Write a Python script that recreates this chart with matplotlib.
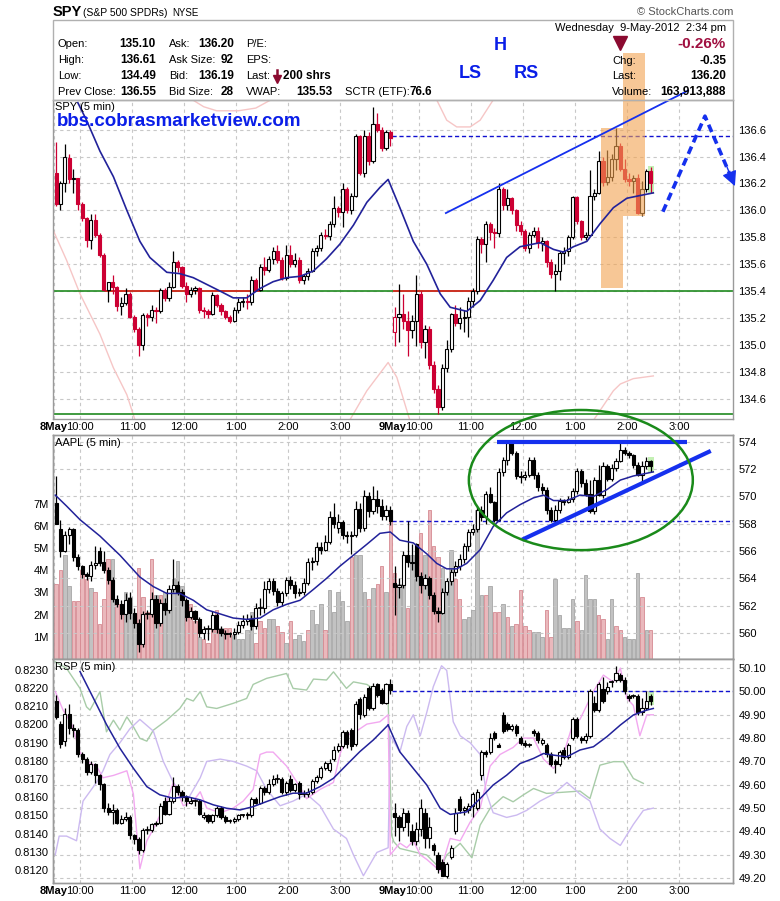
import matplotlib.pyplot as plt
from matplotlib.patches import Rectangle, Ellipse

plt.rcParams['font.family'] = ['Liberation Sans', 'DejaVu Sans']

W, H = 780, 901

# ----------------------------------------------------------------------
# x axis: 5 min bars, 8 May = bars 0..77, 9 May = bars 78..137
grid_x = [-0.5, 5.5, 17.5, 29.5, 41.5, 53.5, 65.5, 77.5, 83.5, 95.5, 107.5, 119.5, 131.5, 143.5]
grid_labels = ['8May', '10:00', '11:00', '12:00', '1:00', '2:00', '3:00',
               '9May', '10:00', '11:00', '12:00', '1:00', '2:00', '3:00']
x_lim = (-0.72, 155.96)
day1_n = 78

# ----------------------------------------------------------------------
# SPY (5 min) candles
spy_open = [136.28, 136.05, 136.20, 136.39, 136.23, 136.24, 136.05, 135.94, 135.78, 135.93,
            135.82, 135.67, 135.41, 135.47, 135.43, 135.29, 135.31, 135.38, 135.21, 135.12,
            135.00, 135.22, 135.21, 135.26, 135.25, 135.41, 135.35, 135.43, 135.62, 135.58,
            135.44, 135.38, 135.41, 135.42, 135.26, 135.25, 135.23, 135.37, 135.30, 135.25,
            135.21, 135.18, 135.26, 135.32, 135.33, 135.32, 135.48, 135.41, 135.58, 135.56,
            135.64, 135.70, 135.63, 135.50, 135.67, 135.60, 135.63, 135.48, 135.51, 135.55,
            135.70, 135.72, 135.82, 135.81, 135.90, 136.02, 135.99, 136.16, 136.00, 136.11,
            136.55, 136.28, 136.55, 136.37, 136.64, 136.60, 136.46, 136.58,
            135.10, 135.21, 135.23, 135.18, 135.11, 135.18, 135.38, 135.02, 135.12, 134.85,
            134.67, 134.54, 134.83, 134.97, 135.23, 135.16, 135.20, 135.21, 135.33, 135.40,
            135.79, 135.75, 135.90, 135.84, 135.83, 136.16, 136.04, 136.09, 136.00, 135.89,
            135.85, 135.72, 135.82, 135.85, 135.76, 135.77, 135.62, 135.53, 135.55, 135.68,
            135.70, 135.80, 136.10, 135.92, 135.80, 135.82, 136.11, 136.13, 136.37, 136.21,
            136.25, 136.38, 136.48, 136.31, 136.23, 136.22, 136.24, 135.98, 136.16, 136.29]
spy_high = [136.51, 136.22, 136.49, 136.42, 136.31, 136.24, 136.06, 135.95, 135.97, 135.97,
            135.83, 135.68, 135.47, 135.52, 135.44, 135.36, 135.42, 135.39, 135.22, 135.13,
            135.24, 135.24, 135.30, 135.28, 135.42, 135.42, 135.47, 135.70, 135.63, 135.59,
            135.47, 135.43, 135.44, 135.43, 135.28, 135.27, 135.39, 135.38, 135.31, 135.26,
            135.22, 135.28, 135.35, 135.36, 135.38, 135.51, 135.50, 135.60, 135.65, 135.66,
            135.73, 135.74, 135.65, 135.74, 135.74, 135.68, 135.65, 135.53, 135.57, 135.72,
            135.74, 135.84, 135.86, 135.92, 136.11, 136.03, 136.20, 136.17, 136.13, 136.57,
            136.56, 136.60, 136.58, 136.77, 136.72, 136.62, 136.60, 136.60,
            135.28, 135.45, 135.38, 135.25, 135.22, 135.52, 135.40, 135.15, 135.14, 134.88,
            134.70, 134.86, 135.04, 135.24, 135.30, 135.28, 135.26, 135.36, 135.42, 135.81,
            135.80, 135.92, 135.91, 135.87, 136.20, 136.17, 136.16, 136.10, 136.01, 135.92,
            135.86, 135.84, 135.88, 135.88, 135.80, 135.78, 135.64, 135.60, 135.70, 135.73,
            135.82, 136.11, 136.11, 135.93, 135.84, 136.30, 136.16, 136.44, 136.40, 136.45,
            136.42, 136.61, 136.50, 136.38, 136.28, 136.26, 136.27, 136.22, 136.31, 136.32]
spy_low = [136.03, 136.00, 136.14, 136.20, 136.13, 136.00, 135.92, 135.73, 135.71, 135.80,
           135.65, 135.40, 135.32, 135.38, 135.25, 135.22, 135.30, 135.20, 135.10, 134.92,
           134.96, 135.14, 135.18, 135.16, 135.24, 135.33, 135.33, 135.42, 135.54, 135.42,
           135.32, 135.36, 135.38, 135.24, 135.20, 135.20, 135.22, 135.28, 135.22, 135.19,
           135.16, 135.17, 135.24, 135.28, 135.27, 135.30, 135.40, 135.40, 135.52, 135.54,
           135.60, 135.61, 135.48, 135.48, 135.58, 135.58, 135.46, 135.45, 135.48, 135.54,
           135.66, 135.70, 135.79, 135.78, 135.88, 135.95, 135.88, 135.98, 135.97, 136.10,
           136.26, 136.25, 136.34, 136.35, 136.58, 136.44, 136.45, 136.48,
           134.99, 135.02, 135.12, 134.92, 135.05, 134.99, 134.98, 134.90, 134.82, 134.64,
           134.49, 134.52, 134.80, 134.95, 135.14, 135.12, 135.10, 135.06, 135.28, 135.38,
           135.68, 135.62, 135.78, 135.72, 135.80, 136.00, 136.00, 135.97, 135.85, 135.82,
           135.70, 135.68, 135.80, 135.72, 135.70, 135.58, 135.50, 135.40, 135.48, 135.60,
           135.66, 135.79, 135.90, 135.78, 135.78, 135.81, 136.08, 136.12, 136.18, 136.19,
           136.22, 136.30, 136.29, 136.21, 136.18, 136.13, 135.97, 135.96, 136.14, 136.13]
spy_close = [136.05, 136.20, 136.40, 136.23, 136.24, 136.05, 135.94, 135.78, 135.93, 135.82,
             135.67, 135.41, 135.47, 135.43, 135.29, 135.31, 135.38, 135.21, 135.12, 135.00,
             135.22, 135.21, 135.26, 135.25, 135.41, 135.35, 135.43, 135.62, 135.58, 135.44,
             135.38, 135.41, 135.42, 135.26, 135.25, 135.23, 135.37, 135.30, 135.25, 135.21,
             135.18, 135.26, 135.32, 135.33, 135.32, 135.48, 135.41, 135.58, 135.56, 135.64,
             135.70, 135.63, 135.50, 135.67, 135.60, 135.63, 135.48, 135.51, 135.55, 135.70,
             135.72, 135.82, 135.81, 135.90, 136.02, 135.99, 136.16, 136.00, 136.11, 136.55,
             136.28, 136.55, 136.37, 136.64, 136.60, 136.46, 136.58, 136.54,
             135.21, 135.23, 135.18, 135.11, 135.18, 135.38, 135.02, 135.12, 134.85, 134.67,
             134.54, 134.83, 134.97, 135.23, 135.16, 135.20, 135.21, 135.33, 135.40, 135.79,
             135.75, 135.90, 135.84, 135.83, 136.16, 136.04, 136.09, 136.00, 135.89, 135.85,
             135.72, 135.82, 135.85, 135.76, 135.77, 135.62, 135.53, 135.55, 135.68, 135.70,
             135.80, 136.10, 135.92, 135.80, 135.82, 136.11, 136.13, 136.37, 136.21, 136.25,
             136.38, 136.48, 136.31, 136.23, 136.22, 136.24, 135.98, 136.16, 136.29, 136.20]

spy_sma_x = [5, 7.0, 10.1, 13.2, 16.3, 19.3, 21.6, 25.5, 28.5, 31.6, 34.7, 37.8, 40.8, 43.9, 47.0,
             50.0, 53.1, 56.2, 59.3, 62.3, 65.4, 68.5, 71.6, 74.6, 76.5, 79.2, 82.3, 85.4, 88.5,
             90.8, 94.6, 97.7, 100.7, 103.8, 106.9, 111.5, 114.6, 116.9, 119.2, 122.3, 125.3,
             128.4, 131.5, 134.5, 137.6]
spy_sma_y = [136.80, 136.67, 136.44, 136.25, 136.00, 135.77, 135.65, 135.54, 135.53, 135.50,
             135.45, 135.40, 135.35, 135.35, 135.42, 135.47, 135.50, 135.51, 135.55, 135.64,
             135.75, 135.89, 136.06, 136.17, 136.23, 136.02, 135.77, 135.60, 135.38, 135.28,
             135.25, 135.33, 135.48, 135.65, 135.73, 135.76, 135.71, 135.69, 135.73, 135.77,
             135.90, 136.02, 136.09, 136.11, 136.13]

# faint pink overlay lines in the SPY panel
spy_pink_a_x = [-0.65, 2.4, 5.5, 10.1, 13.2, 16.3, 18.2]
spy_pink_a_y = [135.85, 135.63, 135.38, 135.08, 134.83, 134.63, 134.44]
spy_pink_b_x = [31, 34, 37, 42, 46, 50]
spy_pink_b_y = [136.83, 136.77, 136.74, 136.74, 136.76, 136.83]
spy_pink_c_x = [66.9, 71.6, 76.5, 78.5, 81.5]
spy_pink_c_y = [134.40, 134.66, 134.87, 134.76, 134.44]
spy_pink_d_x = [87.7, 90.0, 92.3, 95.4, 97.7, 100.7]
spy_pink_d_y = [136.82, 136.67, 136.62, 136.62, 136.67, 136.82]
spy_pink_e_x = [123.8, 128.4, 130.0, 133.0, 137.6]
spy_pink_e_y = [134.44, 134.66, 134.71, 134.75, 134.77]

# ----------------------------------------------------------------------
# AAPL (5 min) candles and volume (millions)
aapl_open = [569.5, 567.6, 566.0, 567.2, 567.6, 565.6, 564.9, 564.3, 564.2, 565.0,
             566.0, 565.2, 564.6, 563.9, 562.5, 562.1, 561.4, 562.6, 561.5, 560.7,
             559.2, 561.4, 561.4, 562.5, 560.7, 562.2, 561.7, 563.2, 563.5, 563.0,
             562.4, 561.2, 561.6, 561.0, 560.0, 560.3, 560.3, 561.3, 560.3, 560.0,
             559.9, 559.9, 560.1, 560.6, 560.9, 561.0, 560.5, 561.8, 561.8, 563.2,
             563.8, 563.1, 562.3, 562.9, 563.9, 563.5, 562.9, 563.0, 563.7, 565.2,
             565.3, 566.3, 566.1, 566.7, 568.5, 567.7, 568.1, 567.2, 567.1, 567.2,
             569.1, 567.7, 570.0, 568.9, 569.8, 569.3, 568.6, 569.0,
             563.7, 563.4, 563.5, 565.7, 565.2, 566.5, 564.2, 563.5, 564.0, 562.8,
             561.6, 561.5, 563.0, 563.8, 564.5, 564.9, 565.4, 566.4, 567.4, 567.6,
             569.0, 568.5, 570.2, 569.6, 568.3, 571.8, 572.7, 573.9, 573.2, 571.5,
             571.4, 571.6, 572.7, 571.6, 570.7, 570.5, 569.0, 568.3, 569.0, 569.7,
             569.6, 569.8, 570.4, 571.9, 571.0, 570.2, 568.9, 571.2, 570.1, 572.2,
             571.3, 572.1, 572.6, 573.4, 573.2, 573.0, 572.3, 571.6, 572.2, 572.6]
aapl_high = [571.5, 568.3, 567.5, 567.8, 567.7, 565.8, 565.0, 564.5, 565.3, 566.4,
             566.3, 566.0, 564.8, 564.1, 562.8, 562.4, 562.9, 563.0, 561.8, 561.0,
             561.6, 561.7, 563.0, 562.8, 562.5, 562.6, 563.5, 565.4, 563.8, 563.2,
             562.6, 561.9, 561.7, 561.2, 560.5, 560.6, 561.6, 561.5, 560.5, 560.2,
             560.1, 560.4, 560.9, 561.3, 561.4, 561.3, 562.2, 562.6, 563.8, 564.0,
             564.0, 563.3, 563.1, 564.1, 564.2, 563.8, 563.3, 564.0, 565.5, 565.6,
             566.7, 566.7, 567.2, 568.9, 569.5, 568.7, 568.3, 567.5, 567.5, 569.7,
             569.5, 570.5, 570.3, 570.8, 570.5, 569.8, 569.4, 569.3,
             564.9, 564.0, 566.0, 568.2, 566.5, 566.6, 564.5, 564.3, 564.2, 563.0,
             561.9, 563.3, 564.0, 564.7, 565.3, 565.8, 566.6, 567.6, 568.0, 569.2,
             569.3, 570.4, 570.7, 569.7, 572.1, 572.9, 574.0, 574.0, 573.3, 571.9,
             571.9, 572.9, 572.9, 571.8, 571.0, 570.7, 569.2, 569.4, 569.9, 569.8,
             570.0, 570.6, 572.1, 572.0, 571.3, 571.2, 571.4, 572.3, 572.5, 572.4,
             572.4, 572.8, 574.0, 573.6, 573.3, 573.1, 572.5, 572.6, 572.9, 572.7]
aapl_low = [568.0, 565.6, 565.9, 566.5, 565.3, 564.6, 564.0, 563.9, 563.8, 564.7,
            564.9, 564.4, 563.6, 562.3, 561.9, 561.0, 560.8, 561.0, 560.4, 558.6,
            559.0, 561.0, 561.2, 560.4, 560.5, 561.3, 561.5, 563.0, 562.8, 562.0,
            560.9, 561.0, 560.7, 559.7, 559.6, 559.5, 560.1, 560.0, 559.8, 559.6,
            559.7, 559.6, 559.9, 560.4, 560.6, 560.2, 560.3, 561.3, 561.5, 562.9,
            562.8, 562.0, 562.0, 562.7, 563.2, 562.6, 562.7, 562.8, 563.5, 564.6,
            565.0, 565.8, 566.0, 566.5, 567.7, 567.3, 566.9, 566.6, 565.8, 567.0,
            567.4, 567.5, 568.5, 568.7, 568.8, 568.3, 568.3, 567.9,
            561.3, 562.6, 563.3, 564.8, 564.6, 563.8, 562.9, 563.2, 562.5, 561.4,
            560.8, 561.4, 562.8, 563.5, 564.2, 564.6, 565.1, 566.0, 567.2, 567.4,
            568.2, 568.0, 569.5, 568.1, 568.2, 571.5, 572.3, 573.0, 571.3, 571.0,
            571.2, 571.4, 571.3, 570.4, 570.2, 568.7, 568.1, 568.0, 568.8, 569.4,
            569.5, 569.6, 570.2, 570.7, 570.0, 568.8, 568.7, 570.0, 569.9, 571.1,
            571.1, 571.9, 572.5, 573.0, 572.8, 572.1, 571.5, 571.1, 572.0, 571.8]
aapl_close = [568.0, 566.0, 567.2, 567.6, 565.6, 564.9, 564.3, 564.2, 565.0, 565.1,
              565.1, 564.6, 563.9, 562.5, 562.1, 561.4, 562.4, 561.5, 560.7, 559.2,
              561.4, 561.4, 562.5, 560.7, 562.2, 561.7, 563.2, 563.5, 563.0, 562.4,
              561.2, 561.6, 561.0, 560.0, 560.3, 560.3, 561.3, 560.3, 560.0, 559.9,
              559.9, 560.1, 560.6, 560.9, 561.0, 560.5, 561.8, 561.8, 563.2, 563.8,
              563.1, 562.3, 562.9, 563.9, 563.5, 562.9, 563.0, 563.7, 565.2, 565.3,
              566.3, 566.1, 566.7, 568.5, 568.0, 568.1, 567.2, 567.1, 567.2, 569.1,
              567.7, 570.0, 568.9, 569.8, 569.3, 568.6, 569.0, 568.2,
              563.4, 563.5, 565.7, 565.2, 565.1, 564.2, 563.5, 564.0, 562.8, 561.6,
              561.5, 563.0, 563.8, 564.5, 564.9, 565.4, 566.4, 567.4, 567.6, 569.0,
              568.5, 570.2, 569.6, 568.3, 571.8, 572.7, 573.9, 573.2, 571.5, 571.4,
              571.6, 572.7, 571.6, 570.7, 570.5, 569.0, 568.3, 569.0, 569.7, 569.6,
              569.8, 570.4, 571.9, 571.0, 570.2, 568.9, 571.2, 570.1, 572.2, 571.3,
              572.1, 572.6, 573.4, 573.2, 573.0, 572.3, 571.6, 572.2, 572.6, 572.2]
aapl_volume = [3.4, 4.0, 4.7, 3.3, 2.6, 2.6, 4.0, 3.6, 3.2, 3.0,
               1.6, 2.7, 4.5, 4.5, 2.5, 2.5, 3.0, 2.8, 1.7, 4.1,
               2.8, 2.1, 4.5, 2.9, 2.9, 3.0, 2.9, 3.6, 4.4, 3.3,
               2.3, 2.5, 1.7, 1.0, 0.9, 0.7, 1.3, 2.2, 1.4, 1.4,
               1.4, 1.1, 0.9, 0.9, 1.3, 2.1, 0.7, 1.7, 1.4, 1.8,
               1.8, 1.5, 1.2, 0.7, 1.7, 0.9, 1.1, 0.8, 1.3, 2.2,
               1.6, 2.5, 1.3, 3.1, 2.1, 3.0, 2.6, 1.7, 4.6, 4.7,
               4.7, 3.0, 2.7, 3.2, 3.4, 4.2, 3.0, 6.2,
               3.9, 3.4, 3.4, 2.3, 4.7, 5.1, 5.7, 4.7, 6.7, 5.1,
               4.6, 4.1, 3.5, 4.9, 3.6, 2.7, 1.8, 1.9, 2.2, 6.7,
               2.9, 2.9, 3.3, 2.1, 2.1, 2.5, 1.9, 1.5, 1.6, 3.1,
               1.5, 1.3, 1.2, 1.2, 1.0, 2.2, 1.0, 3.6, 2.0, 1.4,
               1.4, 2.7, 1.7, 1.3, 3.8, 2.7, 2.7, 2.0, 1.8, 0.9,
               2.7, 1.5, 1.3, 1.0, 0.9, 0.9, 3.9, 2.8, 1.3, 1.3]
# p = down volume (pink), g = up volume (grey)
aapl_volume_dir = ('ppggppppgp' 'pppgppgggp' 'pppgpggggg' 'pppgppppgp'
                   'pgggggpppg' 'gppgpgggpg' 'ggpgggggpg' 'ggpgppgp'
                   'pggpggpgpp' 'pgggppgggg' 'gpgppgpgpp' 'ppgggppggg'
                   'ggpggggppg' 'gppggggpgp')

aapl_sma_x = [-0.2, 2.4, 5.5, 10.1, 14.7, 19.3, 22.4, 25.5, 28.5, 31.6, 34.7, 37.8, 40.8, 43.9,
              47.0, 50.0, 53.1, 56.2, 59.3, 62.3, 65.4, 68.5, 71.6, 74.6, 77.0, 79.2, 82.3,
              85.4, 87.7, 90.0, 92.3, 94.6, 97.7, 100.7, 103.8, 106.9, 110.0, 112.3, 114.6,
              117.7, 120.7, 123.8, 126.9, 130.0, 133.0, 136.1, 137.6]
aapl_sma_y = [570.1, 569.3, 568.3, 567.1, 565.7, 564.1, 563.4, 562.9, 562.9, 562.4, 561.7,
              561.4, 561.1, 561.0, 561.1, 561.7, 562.1, 562.4, 563.2, 564.0, 564.9, 565.7,
              566.5, 567.3, 567.4, 566.8, 566.6, 565.8, 565.1, 564.7, 564.7, 565.1, 566.1,
              567.8, 568.8, 569.4, 569.9, 570.1, 569.7, 569.7, 570.1, 570.0, 570.5, 571.2,
              571.5, 571.7, 571.8]

# ----------------------------------------------------------------------
# RSP (5 min): 8 May on the left scale, 9 May on the right scale
rsp1_open = [.8213, .8200, .8191, .8206, .8198, .8197, .8184, .8181, .8174, .8178,
             .8172, .8167, .8154, .8152, .8153, .8146, .8148, .8149, .8139, .8137,
             .8131, .8142, .8142, .8145, .8146, .8158, .8151, .8158, .8166, .8163,
             .8160, .8157, .8158, .8158, .8149, .8150, .8147, .8150, .8154, .8149,
             .8147, .8147, .8148, .8150, .8150, .8150, .8159, .8157, .8165, .8163,
             .8167, .8170, .8170, .8163, .8170, .8164, .8168, .8162, .8162, .8163,
             .8169, .8171, .8176, .8175, .8181, .8186, .8188, .8196, .8197, .8189,
             .8214, .8205, .8220, .8209, .8222, .8219, .8212, .8222]
rsp1_high = [.8216, .8202, .8209, .8211, .8200, .8198, .8185, .8182, .8180, .8179,
             .8173, .8168, .8157, .8156, .8154, .8150, .8152, .8150, .8140, .8138,
             .8143, .8144, .8146, .8147, .8157, .8160, .8160, .8171, .8167, .8164,
             .8161, .8160, .8159, .8159, .8152, .8151, .8151, .8155, .8155, .8150,
             .8148, .8149, .8151, .8151, .8152, .8160, .8160, .8166, .8166, .8170,
             .8172, .8173, .8171, .8169, .8172, .8168, .8169, .8164, .8165, .8170,
             .8172, .8177, .8180, .8181, .8188, .8190, .8197, .8197, .8198, .8213,
             .8215, .8217, .8221, .8223, .8223, .8220, .8223, .8225]
rsp1_low = [.8203, .8187, .8188, .8195, .8193, .8182, .8179, .8172, .8173, .8168,
            .8164, .8152, .8150, .8145, .8145, .8145, .8147, .8137, .8134, .8129,
            .8130, .8140, .8141, .8144, .8145, .8150, .8150, .8157, .8161, .8158,
            .8155, .8156, .8155, .8150, .8148, .8146, .8146, .8149, .8148, .8146,
            .8146, .8146, .8147, .8149, .8148, .8149, .8156, .8156, .8161, .8162,
            .8166, .8168, .8162, .8161, .8163, .8163, .8159, .8160, .8160, .8162,
            .8168, .8170, .8175, .8174, .8180, .8185, .8187, .8187, .8186, .8188,
            .8203, .8204, .8208, .8208, .8215, .8211, .8211, .8217]
rsp1_close = [.8204, .8189, .8206, .8198, .8197, .8184, .8181, .8174, .8178, .8172,
              .8167, .8154, .8152, .8153, .8146, .8148, .8149, .8139, .8137, .8131,
              .8142, .8142, .8145, .8146, .8155, .8151, .8158, .8166, .8163, .8160,
              .8158, .8158, .8158, .8151, .8150, .8147, .8150, .8154, .8149, .8147,
              .8147, .8148, .8150, .8150, .8151, .8159, .8157, .8165, .8163, .8167,
              .8170, .8170, .8163, .8168, .8164, .8167, .8162, .8162, .8163, .8169,
              .8171, .8176, .8179, .8179, .8186, .8188, .8196, .8189, .8188, .8211,
              .8206, .8215, .8209, .8221, .8216, .8212, .8222, .8219]
rsp2_open = [49.48, 49.46, 49.42, 49.48, 49.40, 49.36, 49.41, 49.48, 49.37, 49.34,
             49.30, 49.27, 49.21, 49.29, 49.40, 49.54, 49.49, 49.49, 49.51, 49.50,
             49.64, 49.74, 49.74, 49.82, 49.77, 49.90, 49.86, 49.84, 49.85, 49.80,
             49.78, 49.77, 49.83, 49.82, 49.78, 49.77, 49.73, 49.70, 49.69, 49.75,
             49.72, 49.80, 49.88, 49.80, 49.79, 49.81, 49.95, 49.92, 50.01, 50.00,
             50.04, 50.05, 50.07, 50.05, 49.98, 49.98, 49.98, 49.91, 49.93, 49.98]
rsp2_high = [49.52, 49.47, 49.50, 49.49, 49.43, 49.44, 49.54, 49.50, 49.46, 49.35,
             49.31, 49.28, 49.27, 49.34, 49.50, 49.55, 49.51, 49.52, 49.57, 49.58,
             49.75, 49.75, 49.82, 49.83, 49.78, 49.91, 49.87, 49.86, 49.86, 49.81,
             49.79, 49.78, 49.84, 49.83, 49.80, 49.78, 49.74, 49.71, 49.75, 49.76,
             49.78, 49.89, 49.89, 49.81, 49.82, 50.01, 49.98, 50.04, 50.06, 50.04,
             50.05, 50.11, 50.08, 50.06, 49.99, 49.99, 49.99, 49.97, 50.00, 49.99]
rsp2_low = [49.38, 49.36, 49.40, 49.38, 49.34, 49.34, 49.38, 49.33, 49.33, 49.30,
            49.22, 49.21, 49.20, 49.28, 49.39, 49.48, 49.47, 49.48, 49.46, 49.49,
            49.62, 49.72, 49.73, 49.79, 49.76, 49.82, 49.83, 49.83, 49.81, 49.77,
            49.76, 49.76, 49.81, 49.78, 49.77, 49.72, 49.68, 49.65, 49.68, 49.71,
            49.71, 49.79, 49.80, 49.78, 49.78, 49.80, 49.91, 49.91, 49.95, 49.99,
            50.02, 50.04, 50.04, 49.99, 49.96, 49.97, 49.90, 49.90, 49.92, 49.94]
rsp2_close = [49.46, 49.42, 49.48, 49.44, 49.36, 49.41, 49.50, 49.37, 49.42, 49.32,
              49.24, 49.21, 49.26, 49.33, 49.48, 49.49, 49.50, 49.51, 49.56, 49.57,
              49.74, 49.73, 49.80, 49.80, 49.76, 49.83, 49.84, 49.85, 49.82, 49.78,
              49.77, 49.77, 49.82, 49.79, 49.79, 49.73, 49.69, 49.69, 49.74, 49.72,
              49.77, 49.88, 49.81, 49.79, 49.81, 50.00, 49.92, 50.03, 49.96, 50.02,
              50.04, 50.08, 50.05, 50.00, 49.97, 49.98, 49.91, 49.93, 49.96, 49.96]

rsp1_sma_x = [5.5, 8.6, 11.6, 14.7, 17.8, 20.9, 23.9, 27.0, 30.1, 33.2, 36.2, 39.3, 42.4, 45.4,
              48.5, 51.6, 54.6, 57.7, 60.8, 63.9, 66.9, 70.0, 73.1, 76.5]
rsp1_sma_y = [.82291, .82144, .82000, .81869, .81759, .81658, .81613, .81594, .81603, .81585,
              .81558, .81539, .81530, .81548, .81576, .81603, .81622, .81622, .81658, .81704,
              .81777, .81851, .81915, .81997]
rsp2_sma_x = [76.5, 79.2, 82.3, 85.4, 88.5, 90.8, 94.6, 97.7, 100.7, 103.8, 106.9, 110.0, 112.3,
              114.6, 117.7, 120.7, 123.8, 126.9, 130.0, 133.0, 136.1, 137.6]
rsp2_sma_y = [49.856, 49.741, 49.670, 49.599, 49.499, 49.473, 49.484, 49.541, 49.599, 49.641,
              49.691, 49.713, 49.734, 49.727, 49.720, 49.749, 49.763, 49.806, 49.856, 49.899,
              49.920, 49.927]

# faint comparison lines in the RSP panel (right scale)
rsp_green_x = [-0.2, 2.4, 5.5, 7.0, 7.8, 10.1, 11.6, 13.2, 14.7, 16.3, 17.8, 19.3, 20.9, 22.4,
               25.5, 28.5, 30.1, 31.6, 33.2, 34.7, 37.0, 40.8, 43.9, 45.4, 48.5, 53.1, 54.6,
               57.7, 59.3, 62.3, 63.9, 66.9, 68.5, 71.6, 76.5, 77.3, 77.8, 79.2, 82.3, 85.4,
               88.5, 90.0, 93.1, 95.8, 97.7, 100.0, 103.0, 105.3, 107.6, 110.0, 113.0, 120.7,
               123.0, 125.3, 128.4, 130.7, 133.0, 135.3]
rsp_green_y = [50.127, 50.099, 50.013, 49.934, 49.920, 49.999, 49.827, 49.877, 49.834, 49.891,
               49.849, 49.799, 49.787, 49.834, 49.877, 49.927, 49.970, 49.959, 49.999, 49.934,
               49.927, 49.949, 49.970, 50.030, 50.056, 50.077, 50.013, 50.006, 50.053, 50.049,
               50.084, 50.013, 50.041, 50.030, 49.970, 49.384, 49.356, 49.327, 49.313, 49.299,
               49.241, 49.299, 49.349, 49.287, 49.427, 49.499, 49.549, 49.527, 49.556, 49.584,
               49.563, 49.573, 49.541, 49.684, 49.699, 49.699, 49.627, 49.606]
rsp_purple_x = [-0.2, 0.7, 2.4, 4.7, 6.2, 9.3, 10.8, 12.4, 14.7, 17.0, 19.3, 22.4, 24.7, 27.0,
                30.1, 33.2, 34.7, 37.8, 40.8, 43.9, 46.2, 48.5, 51.6, 54.6, 57.7, 60.8, 63.9,
                66.9, 68.5, 70.8, 73.9, 76.5, 77.0, 79.2, 80.8, 82.3, 83.9, 85.4, 86.9, 88.8,
                90.0, 91.5, 93.1, 95.4, 97.7, 99.2, 100.7, 103.8, 106.1, 108.4, 111.5, 114.6,
                117.7, 120.7, 123.0, 125.3, 127.6, 130.0, 133.0, 135.3, 137.6]
rsp_purple_y = [49.30, 49.38, 49.38, 49.36, 49.53, 49.61, 49.66, 49.73, 49.78, 49.84, 49.88,
                49.83, 49.70, 49.61, 49.53, 49.63, 49.70, 49.71, 49.70, 49.68, 49.66, 49.58,
                49.51, 49.53, 49.56, 49.51, 49.41, 49.37, 49.30, 49.21, 49.31, 49.33, 49.81,
                49.74, 49.85, 49.90, 49.81, 49.91, 50.02, 50.11, 50.09, 49.87, 49.81, 49.78,
                49.73, 49.56, 49.48, 49.46, 49.47, 49.49, 49.53, 49.56, 49.61, 49.56, 49.53,
                49.41, 49.37, 49.34, 49.43, 49.49, 49.50]
rsp_pink_x = [-0.2, 1.6, 3.6, 5.5, 7.0, 9.3, 10.8, 13.2, 16.3, 17.8, 19.3, 20.9, 22.4, 25.5,
              27.0, 29.3, 31.6, 33.2, 34.7, 37.8, 40.8, 43.1, 45.4, 47.0, 48.5, 50.0, 53.1,
              56.2, 57.7, 60.8, 63.9, 65.4, 66.9, 69.2, 71.6, 74.6, 76.5, 77.0, 79.2, 80.8,
              82.3, 83.9, 85.4, 88.5, 90.8, 93.1, 95.4, 97.7, 100.0, 102.3, 105.3, 107.6,
              110.0, 112.3, 114.6, 116.9, 119.2, 120.7, 123.8, 126.1, 128.4, 130.0, 131.5,
              133.0, 134.5, 136.1, 137.6]
rsp_pink_y = [50.00, 49.92, 49.86, 49.74, 49.70, 49.68, 49.63, 49.64, 49.66, 49.56, 49.24,
              49.36, 49.41, 49.53, 49.61, 49.51, 49.53, 49.57, 49.50, 49.48, 49.50, 49.53,
              49.58, 49.73, 49.74, 49.74, 49.68, 49.59, 49.54, 49.58, 49.61, 49.73, 49.81,
              49.83, 49.86, 49.87, 49.90, 49.30, 49.35, 49.33, 49.36, 49.30, 49.28, 49.23,
              49.37, 49.36, 49.44, 49.50, 49.68, 49.73, 49.76, 49.80, 49.80, 49.71, 49.67,
              49.73, 49.87, 49.88, 50.00, 50.07, 50.04, 50.10, 49.97, 49.94, 49.81, 49.90,
              49.90]

# ----------------------------------------------------------------------
RED = '#cc0033'
NAVY = '#22229a'
BLUE = '#1530ee'
GRID = '#c8c8c8'
FRAME = '#9a9a9a'

fig = plt.figure(figsize=(W / 100, H / 100), dpi=100)
fig.patch.set_facecolor('white')


def fx(px):
    return px / W


def fy(py):
    return 1 - py / H


def px_axes(left, top, right, bottom):
    return fig.add_axes([fx(left), fy(bottom), (right - left) / W, (bottom - top) / H])


def ftext(x, y, s, **kw):
    kw.setdefault('va', 'center')
    kw.setdefault('fontsize', 8)
    fig.text(fx(x), fy(y), s, **kw)


def draw_candles(ax, o, h, l, c, colors, start=0):
    for k in range(len(o)):
        x = start + k
        col = colors[k]
        ax.plot([x, x], [l[k], h[k]], color=col, lw=0.9, zorder=3, solid_capstyle='butt')
        lo, hi = min(o[k], c[k]), max(o[k], c[k])
        if hi - lo < 1e-9:
            ax.plot([x - 0.36, x + 0.36], [c[k], c[k]], color=col, lw=1.3, zorder=4)
        else:
            face = 'white' if c[k] > o[k] else col
            ax.add_patch(Rectangle((x - 0.36, lo), 0.72, hi - lo, facecolor=face,
                                   edgecolor=col, lw=0.8, zorder=4))


def style_axes(ax, labels=False, twin=False):
    if not twin:
        ax.set_xlim(*x_lim)
        ax.set_xticks(grid_x)
        if labels:
            ax.set_xticklabels(grid_labels)
            for t in ax.get_xticklabels():
                t.set_fontsize(8)
                if 'May' in t.get_text():
                    t.set_fontweight('bold')
        else:
            ax.set_xticklabels([])
    ax.tick_params(axis='both', length=0, labelsize=8, pad=2)
    for s in ax.spines.values():
        s.set_color(FRAME)
        s.set_linewidth(1.0)


# ----------------------------------------------------------------------
# header
ftext(53, 12, 'SPY', fontsize=10.5, fontweight='bold')
ftext(83, 13, '(S&P 500 SPDRs)', fontsize=7.5)
ftext(172, 13, 'NYSE', fontsize=7)
ftext(733, 12, '\u00a9 StockCharts.com', ha='right', fontsize=8, color='#555555')
fig.patches.append(Rectangle((fx(53), fy(100)), 680 / W, 80 / H, transform=fig.transFigure,
                             facecolor='none', edgecolor='#b0b0b0', lw=1, zorder=0))

rows_y = [44, 60, 76, 92]
for y, lab, val in zip(rows_y, ['Open:', 'High:', 'Low:', 'Prev Close:'],
                       ['135.10', '136.61', '134.49', '136.55']):
    ftext(58, y, lab)
    ftext(156, y, val, ha='right', fontweight='bold', fontsize=8.5)
for y, lab, val in zip(rows_y, ['Ask:', 'Ask Size:', 'Bid:', 'Bid Size:'],
                       ['136.20', '92', '136.19', '28']):
    ftext(169, y, lab)
    ftext(234, y, val, ha='right', fontweight='bold', fontsize=8.5)
ftext(246, 44, 'P/E:')
ftext(246, 60, 'EPS:')
ftext(246, 76, 'Last:')
fig.lines.append(plt.Line2D([fx(277), fx(277)], [fy(70), fy(77)], lw=1.8, color='#8b0a30',
                            transform=fig.transFigure))
fig.lines.append(plt.Line2D([fx(277)], [fy(79)], marker='v', markersize=5.5, color='#8b0a30',
                            transform=fig.transFigure))
ftext(283, 76, '200 shrs', fontweight='bold', fontsize=8.5)
ftext(246, 92, 'VWAP:')
ftext(332, 92, '135.53', ha='right', fontweight='bold', fontsize=8.5)
ftext(345, 92, 'SCTR (ETF):')
ftext(409, 92, '76.6', fontweight='bold', fontsize=8.5)

ftext(726, 28, 'Wednesday  9-May-2012  2:34 pm', ha='right')
fig.lines.append(plt.Line2D([fx(620)], [fy(43)], marker='v', markersize=10, color='#8b0a30',
                            transform=fig.transFigure))
ftext(726, 44, '-0.26%', ha='right', fontweight='bold', fontsize=11, color='#a01040')
for y, lab, val in zip([61, 76, 92], ['Chg:', 'Last:', 'Volume:'],
                       ['-0.35', '136.20', '163,913,888']):
    ftext(612, y, lab)
    ftext(726, y, val, ha='right', fontweight='bold', fontsize=8.5)

ftext(500, 45, 'H', ha='center', fontweight='bold', fontsize=13, color='#0a1ee8')
ftext(470, 73, 'LS', ha='center', fontweight='bold', fontsize=13, color='#0a1ee8')
ftext(526, 73, 'RS', ha='center', fontweight='bold', fontsize=13, color='#0a1ee8')

# ----------------------------------------------------------------------
# SPY panel
ax1 = px_axes(53, 100, 733, 419)
style_axes(ax1, labels=True)
ax1.set_ylim(134.45, 136.82)
ax1.set_yticks([134.6, 134.8, 135.0, 135.2, 135.4, 135.6, 135.8, 136.0, 136.2, 136.4, 136.6])
ax1.set_yticklabels(['134.6', '134.8', '135.0', '135.2', '135.4', '135.6', '135.8', '136.0',
                     '136.2', '136.4', '136.6'])
ax1.yaxis.tick_right()
ax1.tick_params(axis='y', pad=4)
ax1.set_axisbelow(True)
ax1.grid(True, ls=(0, (3, 3)), color=GRID, lw=0.8)

for xs, ys in [(spy_pink_a_x, spy_pink_a_y), (spy_pink_b_x, spy_pink_b_y),
               (spy_pink_c_x, spy_pink_c_y), (spy_pink_d_x, spy_pink_d_y),
               (spy_pink_e_x, spy_pink_e_y)]:
    ax1.plot(xs, ys, color='#f6c6c6', lw=1, zorder=1.5)

# highlighted zones
ax1.add_patch(Rectangle((125.5, 135.42), 5.1, 1.19, facecolor='#f3a350', alpha=0.6,
                        edgecolor='none', zorder=5))
ax1.add_patch(Rectangle((130.6, 135.96), 5.1, 1.21, facecolor='#f3a350', alpha=0.6,
                        edgecolor='none', zorder=5, clip_on=False))
ax1.add_patch(Rectangle((136.3, 136.12), 1.4, 0.21, facecolor='#c4f0b4', edgecolor='none',
                        zorder=2))

ax1.axhline(135.4, color='#1f8a1f', lw=1.2, zorder=2.5)
ax1.hlines(135.4, 11.3, 47.0, color='#e82020', lw=1.2, zorder=2.6)
ax1.hlines(135.4, 77.6, 99.3, color='#e82020', lw=1.2, zorder=2.6)
ax1.axhline(134.49, color='#1f8a1f', lw=1.2, zorder=2.5)
ax1.hlines(136.55, 77.5, x_lim[1], colors='#1010d0', linestyles=(0, (3, 2)), lw=1, zorder=2.5)

spy_colors = []
for k in range(len(spy_close)):
    prev = spy_close[k - 1] if k > 0 else spy_open[0]
    spy_colors.append(RED if spy_close[k] < prev else 'black')
draw_candles(ax1, spy_open, spy_high, spy_low, spy_close, spy_colors)
ax1.plot(spy_sma_x, spy_sma_y, color=NAVY, lw=1.2, zorder=6)

# trend line and projected path
ax1.plot([89.8, 145.6], [135.98, 136.89], color=BLUE, lw=1.3, zorder=7, clip_on=False)
ax1.plot([139.8, 149.5, 155.2], [135.99, 136.70, 136.27], color=BLUE, lw=2.6,
         ls=(0, (2.2, 1.3)), zorder=7, clip_on=False)
ax1.annotate('', xy=(156.4, 136.18), xytext=(154.6, 136.32),
             arrowprops=dict(arrowstyle='-|>,head_length=0.9,head_width=0.45', color=BLUE,
                             lw=1, shrinkA=0, shrinkB=0), annotation_clip=False, zorder=7)

ftext(55, 107, 'SPY (5 min)', fontsize=8)
ftext(57, 121, 'bbs.cobrasmarketview.com', fontsize=13.5, fontweight='bold', color='#0a1ee8')

# ----------------------------------------------------------------------
# AAPL panel: volume behind, price in front
ax2v = px_axes(53, 435, 733, 659)
style_axes(ax2v)
ax2v.set_ylim(0, 10.1)
ax2v.set_axisbelow(True)
ax2v.grid(True, axis='x', ls=(0, (3, 3)), color=GRID, lw=0.8)
for k, v in enumerate(aapl_volume):
    if aapl_volume_dir[k] == 'p':
        fc, ec = '#eab8bc', '#d68a92'
    else:
        fc, ec = '#c2c2c2', '#a6a6a6'
    ax2v.bar(k, v, width=0.8, color=fc, edgecolor=ec, lw=0.6, zorder=1)

ax2 = ax2v.twinx()
style_axes(ax2, twin=True)
ax2v.yaxis.tick_left()
ax2v.set_yticks([1, 2, 3, 4, 5, 6, 7])
ax2v.set_yticklabels(['1M', '2M', '3M', '4M', '5M', '6M', '7M'])
ax2v.tick_params(axis='y', pad=3, length=0)
ax2.set_ylim(558.1, 574.5)
ax2.set_yticks([560, 562, 564, 566, 568, 570, 572, 574])
ax2.set_yticklabels(['560', '562', '564', '566', '568', '570', '572', '574'])
ax2.yaxis.tick_right()
ax2.tick_params(axis='y', pad=4, length=0)
ax2.grid(True, axis='y', ls=(0, (3, 3)), color=GRID, lw=0.8, zorder=0)
ax2.add_patch(Rectangle((136.3, 571.7), 1.4, 1.2, facecolor='#c4f0b4', edgecolor='none',
                        zorder=2))
ax2.hlines(568.2, 77.5, x_lim[1], colors='#1010d0', linestyles=(0, (3, 2)), lw=1, zorder=2.5)
draw_candles(ax2, aapl_open, aapl_high, aapl_low, aapl_close, ['black'] * len(aapl_close))
ax2.plot(aapl_sma_x, aapl_sma_y, color=NAVY, lw=1.1, zorder=6)

ax2.plot([101.6, 145.4], [574.0, 574.0], color=BLUE, lw=3, zorder=7, solid_capstyle='butt')
ax2.plot([107.8, 150.4], [566.9, 573.27], color=BLUE, lw=3, zorder=7, clip_on=False)
ax2.add_patch(Ellipse((120.9, 571.2), 51.6, 10.26, fill=False, edgecolor='#1a8a1a', lw=1.8,
                      zorder=7, clip_on=False))
ftext(55, 443, 'AAPL (5 min)', fontsize=8)

# ----------------------------------------------------------------------
# RSP panel
ax3 = px_axes(53, 659, 733, 883)
style_axes(ax3, labels=True)
ax3.set_ylim(49.179, 50.139)
rsp_right_ticks = [49.2, 49.3, 49.4, 49.5, 49.6, 49.7, 49.8, 49.9, 50.0, 50.1]
ax3.set_axisbelow(True)
ax3.grid(True, ls=(0, (3, 3)), color=GRID, lw=0.8)

ax3.plot(rsp_green_x, rsp_green_y, color='#a8cca8', lw=1, zorder=1.5)
ax3.plot(rsp_purple_x, rsp_purple_y, color='#ccbaf0', lw=1, zorder=1.5)
ax3.plot(rsp_pink_x, rsp_pink_y, color='#f2a8f0', lw=1, zorder=1.6)
ax3.add_patch(Rectangle((136.3, 49.94), 1.4, 0.057, facecolor='#c4f0b4', edgecolor='none',
                        zorder=2))
ax3.hlines(50.0, 77.5, x_lim[1], colors='#1010d0', linestyles=(0, (3, 2)), lw=1, zorder=2.5)
draw_candles(ax3, rsp2_open, rsp2_high, rsp2_low, rsp2_close, ['black'] * len(rsp2_close),
             start=day1_n)
ax3.plot(rsp2_sma_x, rsp2_sma_y, color=NAVY, lw=1.1, zorder=6)

ax3l = ax3.twinx()
style_axes(ax3l, twin=True)
ax3l.set_ylim(0.81128, 0.82360)
rsp_left_ticks = [0.812, 0.813, 0.814, 0.815, 0.816, 0.817, 0.818, 0.819, 0.820, 0.821,
                  0.822, 0.823]
ax3l.set_yticks(rsp_left_ticks)
ax3l.set_yticklabels(['%.4f' % t for t in rsp_left_ticks])
ax3l.yaxis.tick_left()
ax3l.tick_params(axis='y', pad=3, length=0)
ax3.set_yticks(rsp_right_ticks)
ax3.set_yticklabels(['%.2f' % t for t in rsp_right_ticks])
ax3.yaxis.tick_right()
ax3.tick_params(axis='y', pad=4, length=0)
draw_candles(ax3l, rsp1_open, rsp1_high, rsp1_low, rsp1_close, ['black'] * len(rsp1_close))
ax3l.plot(rsp1_sma_x, rsp1_sma_y, color=NAVY, lw=1.1, zorder=6)
ftext(55, 667, 'RSP (5 min)', fontsize=8)

plt.savefig('out.png', dpi=100)
